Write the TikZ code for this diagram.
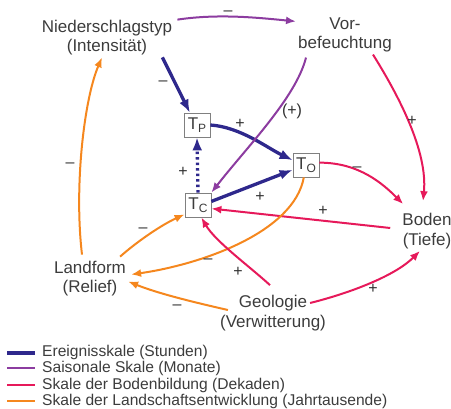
\documentclass[tikz,border=0pt]{standalone}
\usepackage{fontspec}
\setmainfont{Liberation Sans}
\usetikzlibrary{arrows.meta}

\definecolor{ereignis}{RGB}{46,40,140}
\definecolor{saison}{RGB}{140,60,160}
\definecolor{bodenbild}{RGB}{230,25,90}
\definecolor{landschaft}{RGB}{245,135,30}
\definecolor{txt}{RGB}{60,60,60}

\tikzstyle{fac} = [align=center, inner sep=2pt, text=txt, font=\fontsize{17}{19.5}\selectfont]
\tikzstyle{tbox} = [draw=gray, line width=0.8pt, fill=white, minimum width=26pt, minimum height=24pt, inner sep=0pt, text=txt, font=\fontsize{17}{17}\selectfont]
\tikzstyle{sgn} = [inner sep=0pt, text=txt!80!black, font=\fontsize{16}{16}\selectfont]
\tikzstyle{leg} = [anchor=west, inner sep=0pt, text=txt, font=\fontsize{15.6}{15.6}\selectfont]
\tikzstyle{ev} = [ereignis, line width=3.3pt, -{Latex[length=13pt,width=10pt]}]
\tikzstyle{se} = [saison, line width=2pt, -{Latex[length=10pt,width=8pt]}]
\tikzstyle{bo} = [bodenbild, line width=2pt, -{Latex[length=10pt,width=8pt]}]
\tikzstyle{la} = [landschaft, line width=2pt, -{Latex[length=10pt,width=8pt]}]

\newcommand{\tsub}[1]{T\raisebox{-3pt}{\fontsize{12}{12}\selectfont #1}}

\begin{document}
\begin{tikzpicture}[x=1pt, y=-1pt]
    \useasboundingbox (0,0) rectangle (451,409);
    \node[fac] (NT) at (107,37.5) {Niederschlagstyp\\(Intensität)};
    \node[fac] (VB) at (345,35) {Vor-\\befeuchtung};
    \node[fac] (BO) at (427,231) {Boden\\(Tiefe)};
    \node[fac] (LF) at (90,278.5) {Landform\\(Relief)};
    \node[fac] (GE) at (273,313) {Geologie\\(Verwitterung)};
    \node[tbox] (TP) at (197,125) {\tsub{P}};
    \node[tbox] (TO) at (306,165) {\tsub{O}};
    \node[tbox] (TC) at (198,205) {\tsub{C}};

    \draw[se] ([shift={(3pt,-2pt)}]NT.north east) .. controls +(40,-6) and +(-40,-4) .. ([yshift=-6pt]VB.north west);
    \draw[ev] ([xshift=-12pt]NT.south east) -- (TP.120);
    \draw[ev] (TP.east) .. controls +(30,2) and +(-25,-12) .. (TO.160);
    \draw[ev] (TC.15) -- (TO.200);
    \draw[ev, dash pattern=on 2.5pt off 3pt] (TC.north) -- (TP.south);
    \draw[se] ([shift={(10pt,-3pt)}]VB.south west) .. controls +(-10,40) and +(35,-45) .. (TC.north east);
    \draw[bo] ([xshift=-21pt]VB.south east) .. controls +(25,40) and +(5,-50) .. ([shift={(-4pt,10pt)}]BO.north);
    \draw[bo] (TO.10) .. controls +(40,0) and +(-20,-20) .. ([shift={(3pt,7pt)}]BO.north west);
    \draw[bo] ([shift={(-10pt,3pt)}]BO.west) -- (TC.-15);
    \draw[la] (TO.-100) .. controls +(-10,55) and +(70,-10) .. ([shift={(3pt,4pt)}]LF.east);
    \draw[la] ([shift={(-8pt,4pt)}]LF.north) .. controls +(-8,-68) and +(-18,42) .. ([xshift=-5pt]NT.south);
    \draw[la] ([shift={(-8pt,2pt)}]LF.north east) .. controls +(18,-16) and +(-22,10) .. (TC.-145);
    \draw[la] ([shift={(10pt,3pt)}]GE.west) .. controls +(-35,-8) and +(30,12) .. ([yshift=-3pt]LF.east);
    \draw[bo] ([shift={(-3pt,8pt)}]GE.north) .. controls +(-22,-20) and +(14,24) .. (TC.-75);
    \draw[bo] ([shift={(-18pt,10pt)}]GE.east) .. controls +(40,-10) and +(-25,25) .. ([xshift=-7pt]BO.south);

    \node[sgn] (S1) at (228,13) {–};
    \node[sgn] (S2) at (163,83) {–};
    \node[sgn] (S3) at (240,124) {+};
    \node[sgn] (S4) at (292,111) {(+)};
    \node[sgn] (S5) at (412,121) {+};
    \node[sgn] (S6) at (183,172) {+};
    \node[sgn] (S7) at (357,169) {–};
    \node[sgn] (S8) at (260,197) {+};
    \node[sgn] (S9) at (323,211) {+};
    \node[sgn] (S10) at (70,165) {–};
    \node[sgn] (S11) at (143,230) {–};
    \node[sgn] (S12) at (208,261) {–};
    \node[sgn] (S13) at (238,272) {+};
    \node[sgn] (S14) at (177,307) {–};
    \node[sgn] (S15) at (373,289) {+};

    \draw[ereignis, line width=3.3pt] (7,353) -- (35,353);
    \draw[saison, line width=2pt] (7,368) -- (35,368);
    \draw[bodenbild, line width=2pt] (7,385) -- (35,385);
    \draw[landschaft, line width=2pt] (7,401) -- (35,401);
    \node[leg] (L1) at (42,352) {Ereignisskale (Stunden)};
    \node[leg] (L2) at (42,368) {Saisonale Skale (Monate)};
    \node[leg] (L3) at (42,385) {Skale der Bodenbildung (Dekaden)};
    \node[leg] (L4) at (42,401) {Skale der Landschaftsentwicklung (Jahrtausende)};
\end{tikzpicture}
\end{document}
